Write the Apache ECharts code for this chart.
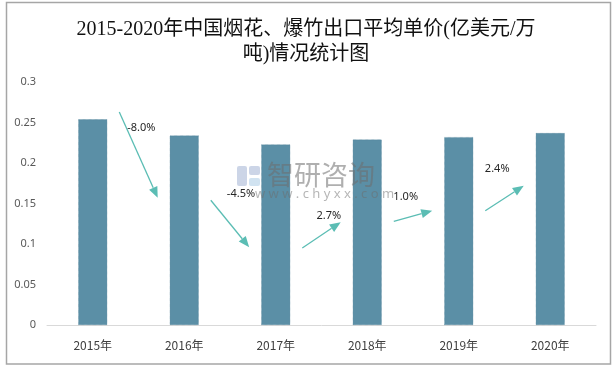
<!DOCTYPE html>
<html>
<head>
<meta charset="utf-8">
<script src="https://cdn.jsdelivr.net/npm/echarts@6/dist/echarts.min.js"></script>
<style>
html,body{margin:0;padding:0;background:#fff;}
#main{width:612px;height:368px;}
</style>
</head>
<body>
<div id="main"></div>
<script>
// ---- data ----
const categories = ['2015年', '2016年', '2017年', '2018年', '2019年', '2020年'];
const prices = [0.254, 0.234, 0.223, 0.229, 0.232, 0.237];
const growthLabels = ['-8.0%', '-4.5%', '2.7%', '1.0%', '2.4%'];
const yTicks = [0, 0.05, 0.1, 0.15, 0.2, 0.25, 0.3];

// ---- decoration layout (arrow annotations, in axis value units) ----
const arrowStartY = [0.263, 0.154, 0.095, 0.128, 0.141];
const arrowEndY = [0.157, 0.096, 0.127, 0.141, 0.172];
const arrowLabelY = [0.243, 0.162, 0.135, 0.158, 0.193];
const arrowLabelDx = [-0.47, -0.38, -0.42, -0.58, -0.58];

const arrowData = growthLabels.map((t, k) => [k + 1, arrowStartY[k], arrowEndY[k], arrowLabelY[k], arrowLabelDx[k]]);

const chart = echarts.init(document.getElementById('main'), null, {renderer: 'canvas'});
const arrowColor = '#5bbdb4';

const option = {
  backgroundColor: '#fff',
  animation: false,
  title: {
    text: '2015-2020年中国烟花、爆竹出口平均单价(亿美元/万\n吨)情况统计图',
    left: 'center',
    top: 12,
    textStyle: {
      fontFamily: '"Liberation Serif", "Noto Sans CJK SC"',
      fontSize: 20,
      fontWeight: 'normal',
      color: '#111',
      lineHeight: 25
    }
  },
  graphic: [
    {type: 'rect', shape: {x: 6.5, y: 2.5, width: 604, height: 361.5}, style: {fill: 'none', stroke: '#a6a6a6', lineWidth: 1.5}, silent: true, z: 100},
    {type: 'rect', shape: {x: 237, y: 166, width: 10, height: 20, r: 2}, style: {fill: 'rgba(170,185,215,0.6)'}, silent: true, z: 50},
    {type: 'rect', shape: {x: 249, y: 166, width: 11, height: 9, r: 2}, style: {fill: 'rgba(170,185,215,0.6)'}, silent: true, z: 50},
    {type: 'rect', shape: {x: 249, y: 178, width: 11, height: 8, r: 2}, style: {fill: 'rgba(190,215,235,0.7)'}, silent: true, z: 50},
    {type: 'text', left: 267, top: 161, style: {text: '智研咨询', fontSize: 27, fontFamily: '"Noto Sans CJK SC"', fill: 'rgba(110,110,110,0.55)'}, silent: true, z: 50},
    {type: 'text', left: 255, top: 188, style: {text: 'w w w . c h y x x . c o m', fontSize: 13, fontFamily: '"Noto Sans"', fill: 'rgba(110,110,110,0.5)'}, silent: true, z: 50}
  ],
  grid: {left: 47, right: 16, top: 82, bottom: 43},
  xAxis: {
    type: 'category',
    data: categories,
    axisLine: {lineStyle: {color: '#d9d9d9', width: 1}},
    axisTick: {show: false},
    axisLabel: {color: '#404040', fontSize: 12, margin: 14, fontFamily: '"Noto Sans CJK SC"'}
  },
  yAxis: {
    type: 'value',
    min: yTicks[0],
    max: yTicks[yTicks.length - 1],
    interval: yTicks[1] - yTicks[0],
    axisLine: {show: false},
    axisTick: {show: false},
    splitLine: {show: false},
    axisLabel: {color: '#595959', fontSize: 11, margin: 11, fontFamily: '"Noto Sans"'}
  },
  series: [
    {
      type: 'bar',
      data: prices,
      barWidth: 29,
      itemStyle: {color: '#5b8fa6', borderColor: '#4a7c94', borderWidth: 0.6, borderType: 'dotted'},
      z: 2
    },
    {
      type: 'custom',
      data: arrowData,
      encode: {x: 0, y: 1},
      z: 10,
      renderItem: function (params, api) {
        const i = api.value(0);
        const band = api.size([1, 0])[0];
        const c = api.coord([i, 0]);
        const x0 = c[0] - band * 0.71, x1 = c[0] - band * 0.29;
        const y0 = api.coord([i, api.value(1)])[1];
        const y1 = api.coord([i, api.value(2)])[1];
        const ly = api.coord([i, api.value(3)])[1];
        const lx = c[0] + band * api.value(4);
        const dx = x1 - x0, dy = y1 - y0;
        const len = Math.sqrt(dx * dx + dy * dy);
        const ux = dx / len, uy = dy / len;
        const hl = 11, hw = 4.5;
        const bx = x1 - ux * hl, by = y1 - uy * hl;
        const nx = -uy, ny = ux;
        return {
          type: 'group',
          children: [
            {type: 'line', shape: {x1: x0, y1: y0, x2: bx, y2: by}, style: {stroke: arrowColor, lineWidth: 1.3}},
            {type: 'polygon', shape: {points: [[x1, y1], [bx + nx * hw, by + ny * hw], [bx - nx * hw, by - ny * hw]]}, style: {fill: arrowColor}},
            {type: 'text', style: {text: growthLabels[params.dataIndex], x: lx, y: ly, align: 'center', verticalAlign: 'middle', fontSize: 11, fontFamily: '"Noto Sans"', fill: '#262626'}}
          ]
        };
      }
    }
  ]
};
chart.setOption(option);
</script>
</body>
</html>
